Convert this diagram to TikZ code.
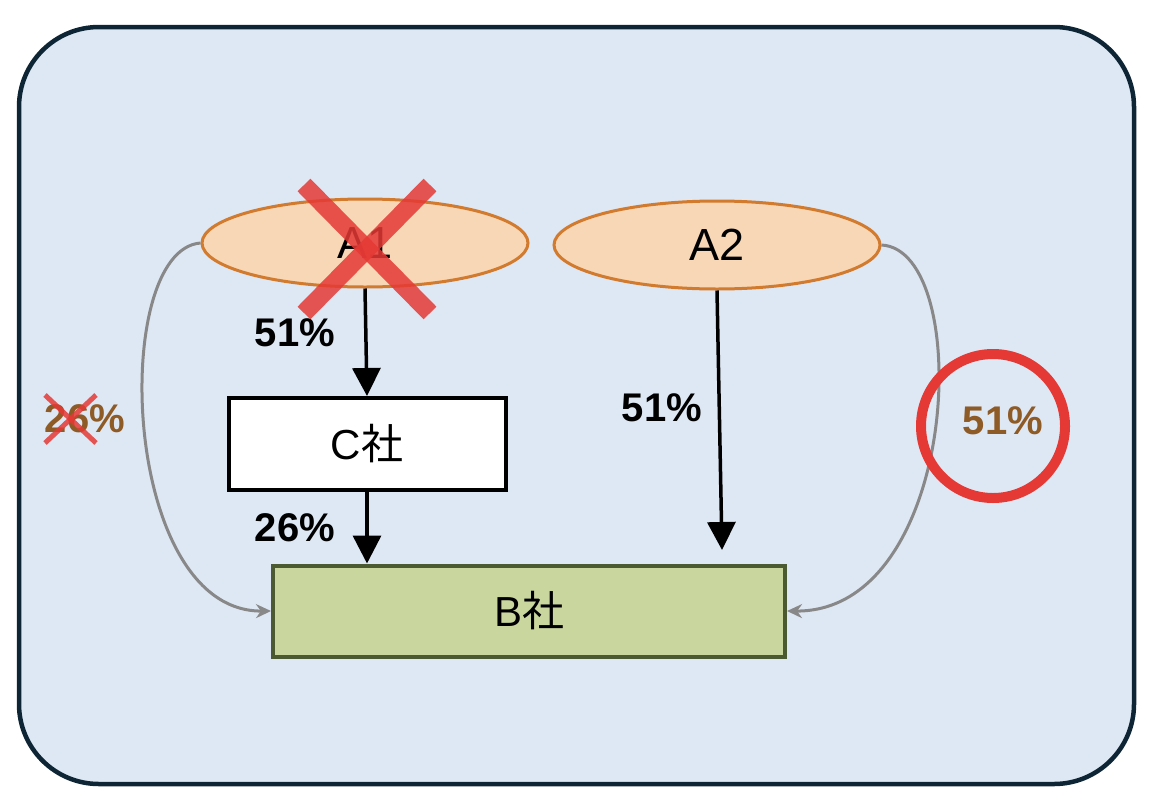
\documentclass[tikz,border=0pt]{standalone}
\usepackage{fontspec}
\setmainfont{Liberation Sans}
\newfontfamily\cjk{Noto Sans CJK JP}
\usetikzlibrary{shapes.geometric,arrows.meta}
\definecolor{bgfill}{HTML}{DEE8F4}
\definecolor{bgline}{HTML}{0E2535}
\definecolor{ellfill}{HTML}{F7D7B6}
\definecolor{elline}{HTML}{D27A2E}
\definecolor{bfill}{HTML}{C9D79F}
\definecolor{bline}{HTML}{4B5A31}
\definecolor{xred}{HTML}{E53935}
\definecolor{brownt}{HTML}{8E5A26}
\definecolor{curvegray}{HTML}{888888}
\tikzset{
  owner/.style={ellipse, draw=elline, fill=ellfill, line width=3pt, minimum width=326pt, minimum height=88pt, inner sep=0pt, font=\fontsize{45}{50}\selectfont},
  company/.style={rectangle, line width=4pt, inner sep=0pt, font=\fontsize{42}{48}\selectfont},
  pct/.style={font=\fontsize{40}{46}\selectfont\bfseries, inner sep=0pt},
  mainarrow/.style={line width=3.5pt, -{Triangle[length=28pt,width=28pt]}},
  sidearrow/.style={draw=curvegray, line width=3pt, -{Stealth[length=15pt,width=14pt]}},
  redmark/.style={draw=xred, line cap=butt},
}
\begin{document}
\begin{tikzpicture}[x=1pt,y=-1pt]
\useasboundingbox (0,0) rectangle (1166,806);
\draw[draw=bgline, fill=bgfill, line width=4.5pt, rounded corners=80pt] (19,27) rectangle (1134,784);

\node[owner] (A1) at (365,243) {A1};
\node[owner] (A2) at (717,245) {A2};
\node[company, draw=black, fill=white, minimum width=277pt, minimum height=92pt] (C) at (367,444) {C{\cjk 社}};
\node[company, draw=bline, fill=bfill, minimum width=512pt, minimum height=91pt] (B) at (529,611) {B{\cjk 社}};
\coordinate (A2end) at (722,550);

\draw[mainarrow] (A1.south) -- (C.north);
\draw[mainarrow] (C.south) -- (C.south |- B.north);
\draw[mainarrow] (A2.south) -- (A2end);

\draw[sidearrow] (A1.west) .. controls (110,250) and (120,612) .. (B.west);
\draw[sidearrow] (A2.east) .. controls (975,250) and (960,612) .. (B.east);

\node[pct] (l1) at (295,333) {51\%};
\node[pct] (l2) at (295,528) {26\%};
\node[pct] (l3) at (662,408) {51\%};
\node[pct, text=brownt] (l4) at (85,419) {26\%};
\node[pct, text=brownt] (l5) at (1003,421) {51\%};

% red X over A1
\draw[redmark, line width=18pt, opacity=0.85] (304,185) -- (430,313);
\draw[redmark, line width=18pt, opacity=0.85] (430,185) -- (304,313);
% small red X over 26
\draw[redmark, line width=5pt, opacity=0.85] (45,395) -- (96,443);
\draw[redmark, line width=5pt, opacity=0.85] (96,395) -- (45,443);
% red circle around 51%
\draw[xred, line width=10pt] (993,426) circle (72pt);
\end{tikzpicture}
\end{document}
